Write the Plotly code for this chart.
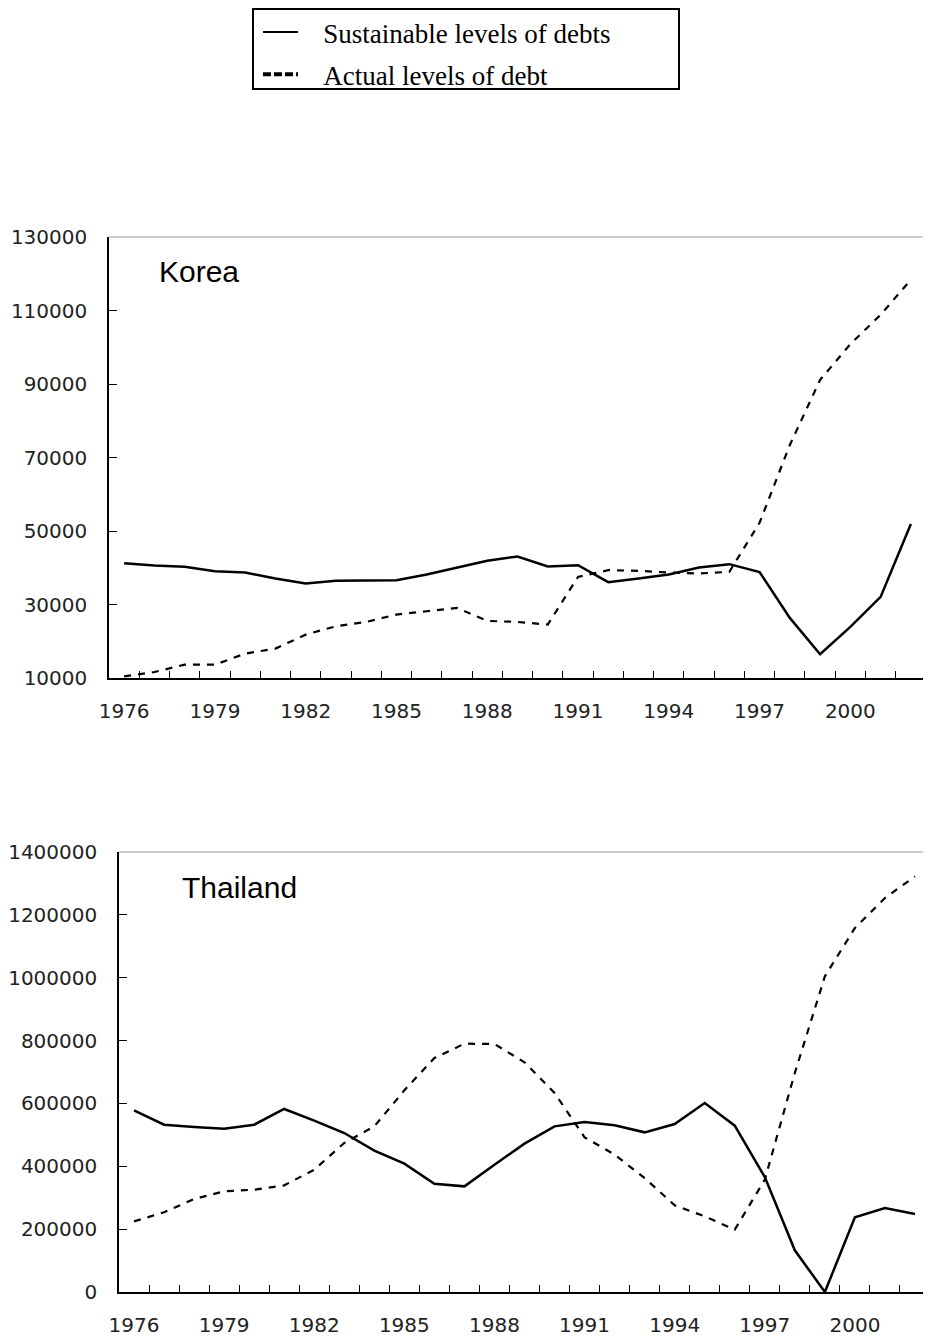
import plotly.graph_objects as go

# ---------------- data ----------------
years = [1976, 1977, 1978, 1979, 1980, 1981, 1982, 1983, 1984, 1985, 1986, 1987, 1988,
         1989, 1990, 1991, 1992, 1993, 1994, 1995, 1996, 1997, 1998, 1999, 2000, 2001, 2002]

korea_sustainable = [41200, 40600, 40250, 39070, 38700, 37070, 35700, 36430, 36500, 36600,
                     38160, 40000, 41900, 43070, 40340, 40700, 36070, 37070, 38160, 40070,
                     40980, 38800, 26350, 16450, 23900, 32070, 51880]
korea_actual = [10450, 11630, 13630, 13630, 16630, 18000, 21800, 24080, 25260, 27260,
                28170, 29080, 25530, 25260, 24530, 37520, 39340, 39160, 38700, 38430,
                38890, 52240, 73400, 91120, 100840, 108830, 118370]

thai_sustainable = [578000, 532400, 525000, 519700, 532400, 582300, 545100, 505900, 449700,
                    408300, 344700, 336200, 405100, 472000, 527100, 540900, 530300, 508000,
                    534500, 601300, 529200, 365900, 132600, 0, 237600, 267300, 248200]
thai_actual = [224800, 253500, 295900, 320300, 325600, 339400, 389200, 474100, 527100,
               641700, 744500, 790100, 789100, 730800, 633200, 492100, 437000, 362700,
               275800, 240800, 198300, 357400, 696800, 1004400, 1158200, 1253600, 1322600]

xtick_years = [1976, 1979, 1982, 1985, 1988, 1991, 1994, 1997, 2000]
korea_yticks = [10000, 30000, 50000, 70000, 90000, 110000, 130000]
thai_yticks = [0, 200000, 400000, 600000, 800000, 1000000, 1200000, 1400000]

legend_names = ["Sustainable levels of debts", "Actual levels of debt"]
panel_titles = ["Korea", "Thailand"]

# ---------------- layout helpers ----------------
# the page body adds an 8px margin, so the figure is placed 8px in from the window corner
OFF = 8
W, H = 931 - OFF, 1343 - OFF


def px_x(p):
    return (p - OFF) / W


def px_y(p):
    return 1 - (p - OFF) / H


tick_font = dict(family="DejaVu Sans", size=20, color="#222222")
minor_vals = [y + 0.5 for y in years[:-1]]
PAD = "\u00a0\u00a0\u00a0"

fig = go.Figure()

solid = dict(color="black", width=2.5)
dashed = dict(color="black", width=2.2, dash="7px,7px")

fig.add_trace(go.Scatter(x=years, y=korea_sustainable, mode="lines", line=solid,
                         xaxis="x", yaxis="y", showlegend=False))
fig.add_trace(go.Scatter(x=years, y=korea_actual, mode="lines", line=dashed,
                         xaxis="x", yaxis="y", showlegend=False))
fig.add_trace(go.Scatter(x=years, y=thai_sustainable, mode="lines", line=solid,
                         xaxis="x2", yaxis="y2", showlegend=False))
fig.add_trace(go.Scatter(x=years, y=thai_actual, mode="lines", line=dashed,
                         xaxis="x2", yaxis="y2", showlegend=False))

# legend proxies
fig.add_trace(go.Scatter(x=[None], y=[None], mode="lines", name=PAD + legend_names[0],
                         line=dict(color="black", width=2), legendgroup="a",
                         xaxis="x", yaxis="y"))
fig.add_trace(go.Scatter(x=[None], y=[None], mode="lines", name=PAD + legend_names[1],
                         line=dict(color="black", width=4, dash="8px,3px"), legendgroup="b",
                         xaxis="x", yaxis="y"))


def xaxis_cfg(x0, x1, anchor):
    return dict(domain=[px_x(x0), px_x(x1)], range=[1975.5, 2002.5], anchor=anchor,
                tickmode="array", tickvals=xtick_years, ticks="",
                showline=True, linecolor="black", linewidth=1.5, mirror=False,
                showgrid=False, zeroline=False, tickfont=tick_font,
                ticklabelstandoff=14, automargin=False,
                minor=dict(tickmode="array", tickvals=minor_vals, ticks="inside", ticklen=7,
                           tickcolor="black", tickwidth=1, showgrid=False))


def yaxis_cfg(top, bottom, rng, vals, anchor):
    return dict(domain=[px_y(bottom), px_y(top)], range=rng, anchor=anchor,
                tickmode="array", tickvals=vals, tickformat="d", ticks="inside",
                ticklen=8, tickcolor="black", tickwidth=1,
                showline=True, linecolor="black", linewidth=1.5, mirror=False,
                showgrid=False, zeroline=False, tickfont=tick_font,
                ticklabelstandoff=16, automargin=False)


shapes = []
for xr, yr in (("x domain", "y domain"), ("x2 domain", "y2 domain")):
    shapes.append(dict(type="line", xref=xr, yref=yr, x0=0, x1=1, y0=1, y1=1,
                       line=dict(color="#9a9a9a", width=1)))
    shapes.append(dict(type="line", xref=xr, yref=yr, x0=1, x1=1, y0=0, y1=1,
                       line=dict(color="#9a9a9a", width=1)))
# legend frame
shapes.append(dict(type="rect", xref="paper", yref="paper",
                   x0=px_x(253), x1=px_x(679), y0=px_y(89), y1=px_y(9),
                   line=dict(color="black", width=2)))

annotations = [
    dict(text=panel_titles[0], xref="paper", yref="paper", x=px_x(157), y=px_y(271),
         xanchor="left", yanchor="middle", showarrow=False,
         font=dict(family="Liberation Sans", size=30, color="black")),
    dict(text=panel_titles[1], xref="paper", yref="paper", x=px_x(180), y=px_y(887),
         xanchor="left", yanchor="middle", showarrow=False,
         font=dict(family="Liberation Sans", size=30, color="black")),
]

fig.update_layout(
    width=W, height=H,
    margin=dict(l=0, r=0, t=0, b=0, autoexpand=False),
    paper_bgcolor="white", plot_bgcolor="white",
    xaxis=xaxis_cfg(109, 926, "y"),
    yaxis=yaxis_cfg(237, 678, [10000, 130000], korea_yticks, "x"),
    xaxis2=xaxis_cfg(119, 930, "y2"),
    yaxis2=yaxis_cfg(852, 1292, [0, 1400000], thai_yticks, "x2"),
    shapes=shapes,
    annotations=annotations,
    showlegend=True,
    legend=dict(x=px_x(258), xanchor="left", y=px_y(8), yanchor="top",
                font=dict(family="Liberation Serif", size=27, color="black"),
                bgcolor="rgba(0,0,0,0)", borderwidth=0, itemwidth=35,
                tracegroupgap=4, traceorder="grouped"),
)

fig.write_html("out.html")
